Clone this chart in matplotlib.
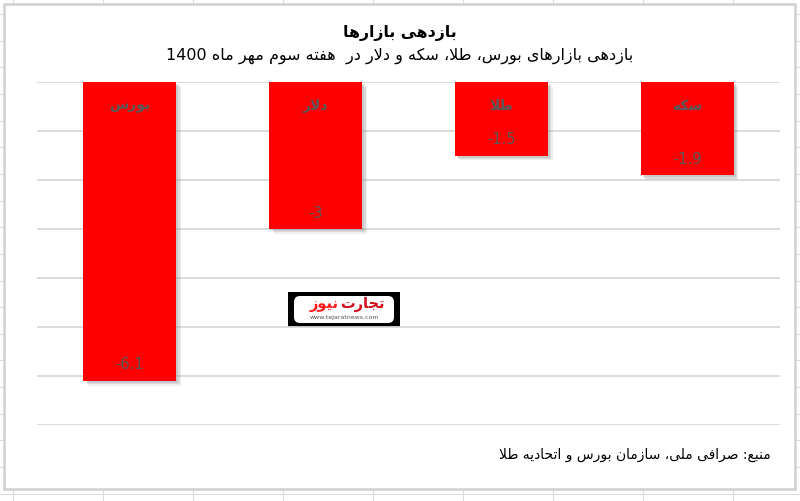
import re
import matplotlib
matplotlib.use('Agg')
import matplotlib.pyplot as plt
import matplotlib.patheffects as pe
from matplotlib.patches import Rectangle, FancyBboxPatch

# data
categories = ['بورس', 'دلار', 'طلا', 'سکه']
values = [-6.1, -3, -1.5, -1.9]
title = 'بازدهی بازارها'
subtitle = 'بازدهی بازارهای بورس، طلا، سکه و دلار در  هفته سوم مهر ماه 1400'
source = 'منبع: صرافی ملی، سازمان بورس و اتحادیه طلا'
logo_a = 'تجارت'
logo_b = 'نیوز'
logo_url = 'www.tejaratnews.com'

# small arabic shaper (matplotlib has no shaping / bidi)
DUAL = {
    'ب': 'ﺏﺐﺑﺒ', 'ت': 'ﺕﺖﺗﺘ', 'ج': 'ﺝﺞﺟﺠ', 'ح': 'ﺡﺢﺣﺤ',
    'س': 'ﺱﺲﺳﺴ', 'ص': 'ﺹﺺﺻﺼ', 'ط': 'ﻁﻂﻃﻄ', 'ع': 'ﻉﻊﻋﻌ',
    'ف': 'ﻑﻒﻓﻔ', 'ل': 'ﻝﻞﻟﻠ', 'م': 'ﻡﻢﻣﻤ', 'ن': 'ﻥﻦﻧﻨ',
    'ه': 'ﻩﻪﻫﻬ', 'ک': 'ﮎﮏﮐﮑ', 'ی': 'ﯼﯽﯾﯿ',
}
RIGHT = {'ا': 'ﺍﺎ', 'د': 'ﺩﺪ', 'ر': 'ﺭﺮ', 'ز': 'ﺯﺰ', 'و': 'ﻭﻮ'}


def shape(s):
    out = []
    i = 0
    while i < len(s):
        c = s[i]
        prev = s[i - 1] if i > 0 else ''
        nxt = s[i + 1] if i + 1 < len(s) else ''
        jp = prev in DUAL
        if c == 'ل' and nxt == 'ا':
            out.append('\uFEFC' if jp else '\uFEFB')
            i += 2
            continue
        if c in DUAL:
            jn = nxt in DUAL or nxt in RIGHT
            f = DUAL[c]
            out.append(f[3] if jp and jn else f[1] if jp else f[2] if jn else f[0])
        elif c in RIGHT:
            out.append(RIGHT[c][1] if jp else RIGHT[c][0])
        else:
            out.append(c)
        i += 1
    toks = re.findall(r'[0-9A-Za-z.]+|.', ''.join(out))
    return ''.join(toks[::-1])


plt.rcParams['font.family'] = ['DejaVu Sans']

fig = plt.figure(figsize=(8.0, 5.01), dpi=100)

# background: spreadsheet cells + chart area, in pixel coords
bg = fig.add_axes([0, 0, 1, 1])
bg.set_xlim(0, 800)
bg.set_ylim(501, 0)
bg.axis('off')
for x in range(13, 800, 90):
    bg.plot([x, x], [0, 501], color='#dcdcdc', lw=0.8)
y = 14.0
while y < 501:
    bg.plot([0, 800], [y, y], color='#dcdcdc', lw=0.8)
    y += 26.65
bg.add_patch(Rectangle((4, 4), 791, 485, facecolor='white', edgecolor='#d0d0d0', lw=1.8, zorder=3))

bg.text(400, 33, shape(title), ha='center', va='center', fontsize=11.3, fontweight='bold', zorder=4)
bg.text(400, 56, shape(subtitle), ha='center', va='center', fontsize=11.5, zorder=4)
bg.text(771, 455, shape(source), ha='right', va='center', fontsize=10, zorder=4)

# logo
bg.add_patch(Rectangle((288, 292), 112, 35, facecolor='black', edgecolor='none', zorder=4))
bg.add_patch(FancyBboxPatch((294, 296), 100, 27, boxstyle='round,pad=0,rounding_size=6',
                            facecolor='white', edgecolor='none', zorder=5))
bg.text(362, 304, shape(logo_a), ha='center', va='center', fontsize=10.5, fontweight='bold',
        color='#d0101a', zorder=6)
bg.text(324, 304, shape(logo_b), ha='center', va='center', fontsize=10.5, fontweight='bold',
        color='#ff1a1a', zorder=6)
bg.text(344, 317, logo_url, ha='center', va='center', fontsize=4.5, color='#555555', zorder=6)

# plot area
ax = fig.add_axes([37 / 800, 1 - 425 / 501, (780 - 37) / 800, (425 - 82) / 501])
ax.set_zorder(2)
ax.patch.set_alpha(0)
x = list(range(len(categories)))
bars = ax.bar(x, values, width=0.5, color='#ff0000', zorder=3)
for b in bars:
    b.set_path_effects([pe.SimplePatchShadow(offset=(3.5, -3.5), shadow_rgbFace='#909090', alpha=0.15),
                        pe.SimplePatchShadow(offset=(2.5, -2.5), shadow_rgbFace='#909090', alpha=0.2),
                        pe.SimplePatchShadow(offset=(1.5, -1.5), shadow_rgbFace='#909090', alpha=0.25),
                        pe.Normal()])
ax.set_xlim(-0.5, len(categories) - 0.5)
ax.set_ylim(-7, 0)
ax.set_yticks(range(-7, 1))
ax.yaxis.grid(True, color='#d9d9d9', lw=1.3)
ax.set_axisbelow(True)
ax.tick_params(left=False, bottom=False, labelleft=False, labelbottom=False)
for s in ax.spines.values():
    s.set_visible(False)

for xi, cat, v in zip(x, categories, values):
    ax.annotate(shape(cat), (xi, 0), xytext=(0, -17), textcoords='offset points',
                ha='center', va='center', fontsize=10, fontweight='bold', color='#595959')
    ax.annotate(f'{v:g}', (xi, v), xytext=(0, 11.5), textcoords='offset points',
                ha='center', va='center', fontsize=10.5, color='#595959')

fig.savefig('out.png', dpi=100)
